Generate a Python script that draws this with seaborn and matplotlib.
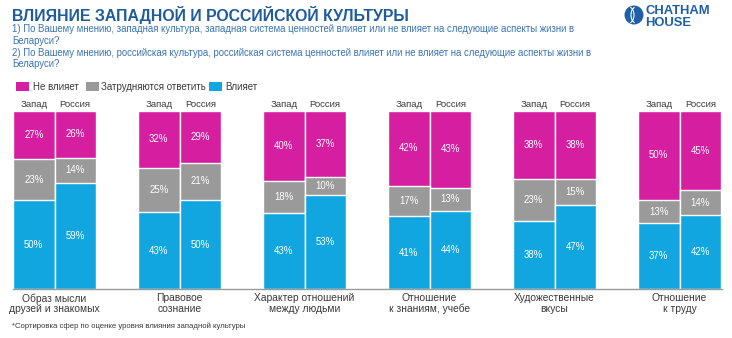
import numpy as np
import pandas as pd
import matplotlib
matplotlib.use("Agg")
import matplotlib.pyplot as plt
import seaborn as sns
from matplotlib.patches import Rectangle, Circle, Arc

# ---------------- data ----------------
categories = ["Образ мысли\nдрузей и знакомых", "Правовое\nсознание",
              "Характер отношений\nмежду людьми", "Отношение\nк знаниям, учебе",
              "Художественные\nвкусы", "Отношение\nк труду"]
sides = ["Запад", "Россия"]
west_yes = [50, 43, 43, 41, 38, 37]
west_unsure = [23, 25, 18, 17, 23, 13]
west_no = [27, 32, 40, 42, 38, 50]
russia_yes = [59, 50, 53, 44, 47, 42]
russia_unsure = [14, 21, 10, 13, 15, 14]
russia_no = [26, 29, 37, 43, 38, 45]
legend_labels = ["Не влияет", "Затрудняются ответить", "Влияет"]

title = "ВЛИЯНИЕ ЗАПАДНОЙ И РОССИЙСКОЙ КУЛЬТУРЫ"
subtitle = ["1) По Вашему мнению, западная культура, западная система ценностей влияет или не влияет на следующие аспекты жизни в",
            "Беларуси?",
            "2) По Вашему мнению, российская культура, российская система ценностей влияет или не влияет на следующие аспекты жизни в",
            "Беларуси?"]
footnote = "*Сортировка сфер по оценке уровня влияния западной культуры"

# ---------------- styling ----------------
C_NO = "#D61FA0"
C_UNS = "#9A9A9A"
C_YES = "#12A6E1"
C_TITLE = "#1F5C9C"
C_SUB = "#3A74B4"
C_TXT = "#3A3A3A"
FONT = ["Liberation Sans", "DejaVu Sans"]

sns.set_theme(style="white")
plt.rcParams["font.family"] = FONT

rows = []
for i, cat in enumerate(categories):
    for side, yes, uns, no in (("Запад", west_yes[i], west_unsure[i], west_no[i]),
                               ("Россия", russia_yes[i], russia_unsure[i], russia_no[i])):
        tot = yes + uns + no
        rows.append(dict(cat=cat, side=side, yes=yes, uns=uns, no=no,
                         h_yes=yes * 100 / tot, h_mid=(yes + uns) * 100 / tot, h_all=100.0))
df = pd.DataFrame(rows)

W, H = 732, 338
fig = plt.figure(figsize=(W / 100, H / 100), dpi=100)
ax_l, ax_r, ax_b, ax_t = 13, 722, 289, 111
ax = fig.add_axes([ax_l / W, 1 - ax_b / H, (ax_r - ax_l) / W, (ax_b - ax_t) / H])

bw = 0.664
for col, color in (("h_all", C_NO), ("h_mid", C_UNS), ("h_yes", C_YES)):
    sns.barplot(data=df, x="cat", y=col, hue="side", hue_order=sides, order=categories,
                palette=[color, color], width=bw, gap=0, dodge=True, legend=False,
                edgecolor="white", linewidth=1.0, saturation=1, ax=ax)

ax.set_ylim(0, 100)
ax.set_xlim(-(54.5 - ax_l) / 125, 5 + (ax_r - 679.5) / 125)
ax.set_ylabel("")
ax.set_xlabel("")
ax.set_yticks([])
for s in ("top", "left", "right"):
    ax.spines[s].set_visible(False)
ax.spines["bottom"].set_color("#9A9A9A")
ax.spines["bottom"].set_linewidth(1.0)
ax.tick_params(axis="x", length=0, pad=3)
ax.set_xticks(range(len(categories)))
ax.set_xticklabels(categories, fontsize=7.4, color=C_TXT, linespacing=1.1, family=FONT)

# value labels and side labels
for _, r in df.iterrows():
    i = categories.index(r["cat"])
    x = i + (-bw / 4 if r["side"] == "Запад" else bw / 4)
    ax.text(x, r["h_yes"] / 2, f"{r['yes']}%", ha="center", va="center", color="white", fontsize=6.9)
    ax.text(x, (r["h_yes"] + r["h_mid"]) / 2, f"{r['uns']}%", ha="center", va="center", color="white", fontsize=6.9)
    ax.text(x, (r["h_mid"] + 100) / 2, f"{r['no']}%", ha="center", va="center", color="white", fontsize=6.9)
    ax.text(x, 103.9, r["side"], ha="center", va="center", color=C_TXT, fontsize=6.8)

# titles
def ftext(x, y, s, **kw):
    fig.text(x / W, 1 - y / H, s, **kw)

ftext(12, 15, title, fontsize=11.4, fontweight="bold", color=C_TITLE, va="center", ha="left")
for y, line in zip([29.5, 41, 52.5, 64], subtitle):
    ftext(12, y, line, fontsize=6.9, color=C_SUB, va="center", ha="left")
ftext(12, 326, footnote, fontsize=5.6, color=C_TXT, va="center", ha="left")

# legend
for x0, color, tx, lab in ((16, C_NO, 33, legend_labels[0]), (86, C_UNS, 101, legend_labels[1]),
                           (209, C_YES, 225, legend_labels[2])):
    fig.add_artist(Rectangle((x0 / W, 1 - 91 / H), 12.5 / W, 9 / H, transform=fig.transFigure,
                             facecolor=color, edgecolor="none"))
    ftext(tx, 86.5, lab, fontsize=7.0, color=C_TXT, va="center", ha="left")

# logo
C_LOGO = "#1F5FA8"
fig.add_artist(Circle((634 / 100, (H - 15) / 100), 0.095, transform=fig.dpi_scale_trans,
                      facecolor=C_LOGO, edgecolor="none"))
fig.add_artist(Arc((636 / 100, (H - 15) / 100), 0.10, 0.16, theta1=100, theta2=260,
                   transform=fig.dpi_scale_trans, color="white", lw=0.8))
fig.add_artist(Arc((629 / 100, (H - 15) / 100), 0.10, 0.16, theta1=-80, theta2=80,
                   transform=fig.dpi_scale_trans, color="white", lw=0.8))
ftext(645, 11, "CHATHAM", fontsize=9.4, fontweight="bold", color=C_LOGO, va="center", ha="left")
ftext(645, 22.5, "HOUSE", fontsize=9.4, fontweight="bold", color=C_LOGO, va="center", ha="left")

fig.savefig("out.png", dpi=100, facecolor="white")
